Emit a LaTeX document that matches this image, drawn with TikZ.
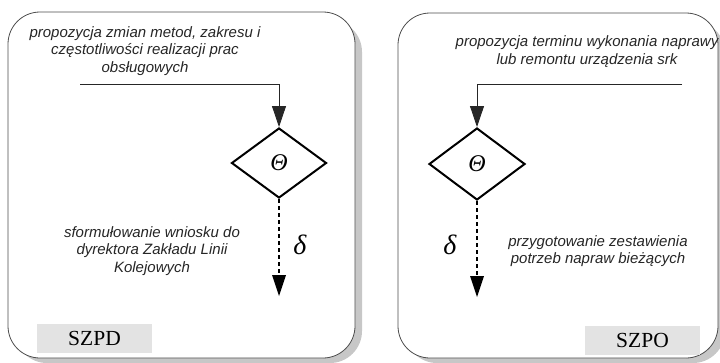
\documentclass[tikz,border=0pt]{standalone}
\usepackage{fontspec}
\setmainfont{Liberation Serif}
\setsansfont{Liberation Sans}
\usetikzlibrary{shapes.geometric,arrows.meta}

\tikzset{
  panel/.style={draw=black!70, line width=0.8pt, fill=white, rounded corners=32pt},
  panelshadow/.style={fill=black!22, draw=none, rounded corners=32pt},
  note/.style={font=\sffamily\itshape\fontsize{15}{17.3}\selectfont, text=black!85, align=center, inner sep=0pt},
  decision/.style={shape=diamond, draw=black, line width=2pt, fill=white, inner sep=0pt, font=\itshape\fontsize{24}{25}\selectfont},
  flowin/.style={draw=black!85, line width=0.8pt, -{Triangle[length=21pt,width=14pt]}},
  flowout/.style={draw=black, line width=2.2pt, dash pattern=on 4pt off 3pt, -{Triangle[length=21pt,width=14pt,line width=0pt]}},
  tag/.style={fill=black!11, draw=none, minimum width=115pt, minimum height=29pt, inner sep=0pt, font=\fontsize{21.5}{24}\selectfont},
  greek/.style={inner sep=0pt, font=\itshape\fontsize{28}{30}\selectfont},
}

\begin{document}
\begin{tikzpicture}[x=1pt, y=-1pt]
\useasboundingbox (0,0) rectangle (720,362);

% panel outlines with soft shadows
\fill[panelshadow] (15,20) rectangle (362,363);
\fill[panelshadow] (405,21) rectangle (725,363);
\draw[panel] (8,12) rectangle (355,358);
\draw[panel] (398,13) rectangle (718,358);

% ---- left panel: SZPD ----
\node[note] (l-top) at (145,51) {propozycja zmian metod, zakresu i\\częstotliwości realizacji prac\\obsługowych};
\coordinate (l-in) at (80,84);
\node[decision, minimum width=95pt, minimum height=70pt] (l-dia) at (279,163) {Θ};
\coordinate (l-out) at (279,296);
\draw[flowin] (l-in) -| (l-dia.north);
\draw[flowout] (l-dia.south) -- (l-out);
\node[greek] (l-delta) at (300,245) {δ};
\node[note] (l-bottom) at (152,251) {sformułowanie wniosku do\\dyrektora Zakładu Linii\\Kolejowych};
\node[tag] (l-tag) at (94.5,338.5) {SZPD};

% ---- right panel: SZPO ----
\node[note] (r-top) at (587,51.5) {propozycja terminu wykonania naprawy\\lub remontu urządzenia srk};
\coordinate (r-in) at (682,84);
\node[decision, minimum width=96pt, minimum height=72pt] (r-dia) at (477,164) {Θ};
\coordinate (r-out) at (477,297);
\draw[flowin] (r-in) -| (r-dia.north);
\draw[flowout] (r-dia.south) -- (r-out);
\node[greek] (r-delta) at (450,245) {δ};
\node[note] (r-bottom) at (598,251) {przygotowanie zestawienia\\potrzeb napraw bieżących};
\node[tag] (r-tag) at (642.5,340.5) {SZPO};
\end{tikzpicture}
\end{document}
